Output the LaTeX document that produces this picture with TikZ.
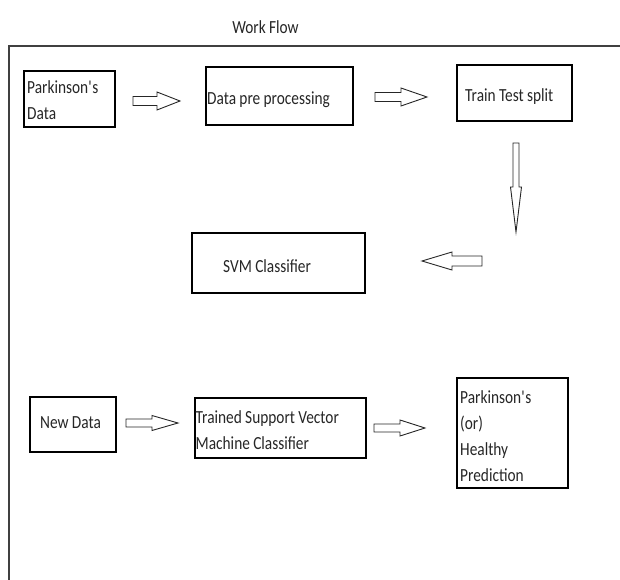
\documentclass[tikz,border=0pt]{standalone}
\usepackage{fontspec}
\setmainfont{Carlito}[FakeStretch=0.83, WordSpace=0.95]
\newcommand\blockH[6]{% x1 x2 y shafthalf headhalf headstart
  \draw[barrow] (#1,#3-#4) -- (#6,#3-#4) -- (#6,#3-#5) -- (#2,#3) -- (#6,#3+#5) -- (#6,#3+#4) -- (#1,#3+#4) -- cycle;}
\newcommand\blockV[6]{% x y1 y2 shafthalf headhalf headstart
  \draw[barrow] (#1-#4,#2) -- (#1-#4,#6) -- (#1-#5,#6) -- (#1,#3) -- (#1+#5,#6) -- (#1+#4,#6) -- (#1+#4,#2) -- cycle;}
\begin{document}
\begin{tikzpicture}[x=1bp,y=-1bp,
  txt/.style={font=\fontsize{18.5bp}{26bp}\selectfont, text=black!85, inner sep=0pt},
  lbl/.style={txt, anchor=west, align=left},
  box/.style={draw=black, line width=1.2bp, rectangle, inner sep=0pt},
  barrow/.style={draw=black!85, line width=0.9bp, fill=white, line join=miter}]
\useasboundingbox (0,0) rectangle (620,580);
% title
\node[txt] (title) at (265.5,27) {Work Flow};
% frame
\draw[line width=1.6bp, draw=black!75] (9,580) -- (9,46) -- (620,46);
% boxes
\node[box, minimum width=91bp, minimum height=56bp] (pd) at (69.5,99) {};
\node[box, minimum width=147bp, minimum height=58bp] (dp) at (279.5,96) {};
\node[box, minimum width=115bp, minimum height=56bp] (tt) at (514.5,93) {};
\node[box, minimum width=173bp, minimum height=60bp] (svm) at (278.5,263) {};
\node[box, minimum width=86bp, minimum height=55bp] (nd) at (73,424.5) {};
\node[box, minimum width=171bp, minimum height=60bp] (tr) at (280.5,428) {};
\node[box, minimum width=111bp, minimum height=110bp] (pr) at (512.5,433) {};
% texts
\node[lbl] (pdT) at (27,100) {Parkinson\textquotesingle s\\Data};
\node[lbl] (dpT) at (207,100) {Data pre processing};
\node[lbl] (ttT) at (465,97) {Train Test split};
\node[lbl] (svmT) at (223,266) {SVM Classifier};
\node[lbl] (ndT) at (40,423) {New Data};
\node[lbl] (trT) at (195.5,430) {Trained Support Vector\\Machine Classifier};
\node[lbl] (prT) at (460,436) {Parkinson\textquotesingle s\\(or)\\Healthy\\Prediction};
% block arrows
\blockH{133}{180}{101}{4.5}{9}{157}
\blockH{375}{427}{97}{4.5}{9}{401}
\blockV{516}{143}{232}{3}{5.5}{187}
\blockH{482}{422}{261}{5}{9}{452}
\blockH{126}{178}{423}{4}{7.5}{152}
\blockH{374}{425}{428}{4}{8}{400}
\end{tikzpicture}
\end{document}
